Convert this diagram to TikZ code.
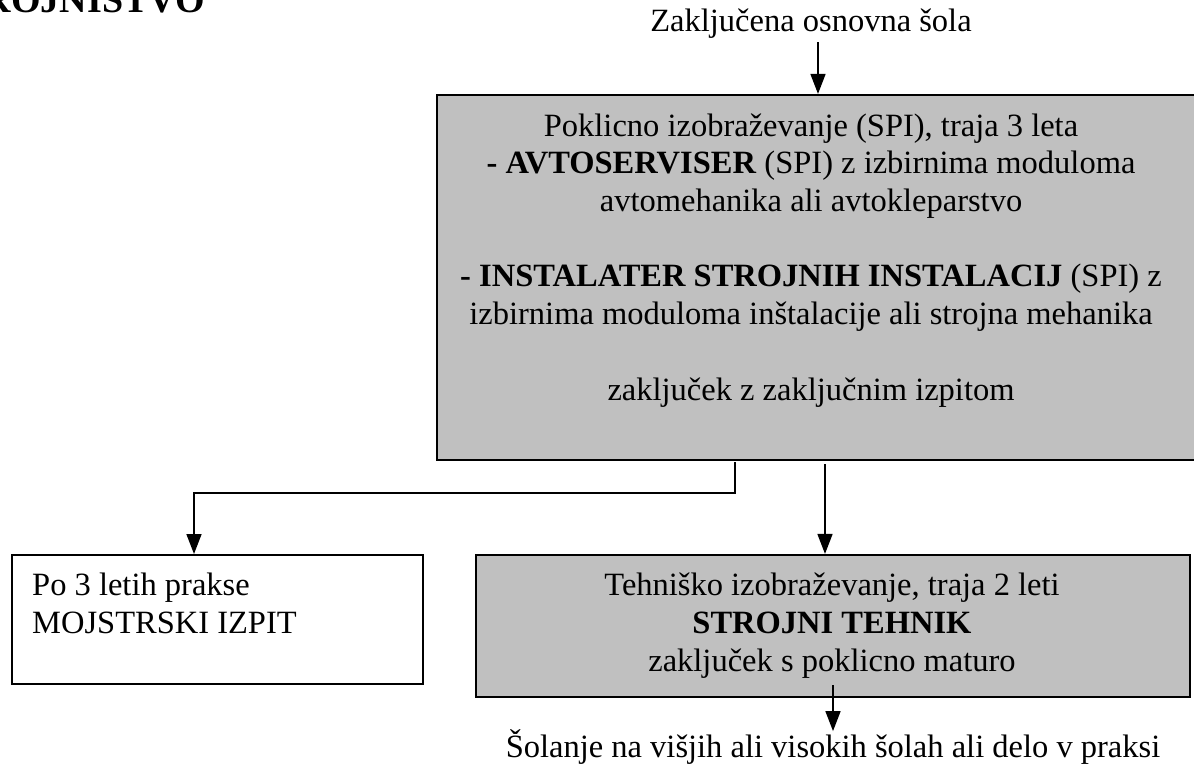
\documentclass[tikz,border=0pt]{standalone}
\usepackage{fontspec}
\setmainfont{Liberation Serif}
\usetikzlibrary{arrows.meta}
\definecolor{boxgray}{HTML}{C0C0C0}
\begin{document}
\begin{tikzpicture}[x=1pt,y=-1pt,
  txt/.style={font=\fontsize{32.5}{37.7}\selectfont, inner sep=0pt},
  graybox/.style={draw=black, line width=2.2pt, fill=boxgray, inner sep=0pt},
  whitebox/.style={draw=black, line width=2pt, fill=white, inner sep=0pt},
  arr/.style={line width=1.6pt, -{Triangle[length=20pt,width=15pt]}}]
\useasboundingbox (0,0) rectangle (1194,765);

% heading, partly cut off at the page edge
\node[font=\bfseries\fontsize{38}{40}\selectfont, anchor=base east, inner sep=0pt] (title) at (205,13) {STROJNIŠTVO};

% boxes
\node[graybox, minimum width=763pt, minimum height=365pt] (spi) at (818.5,277.5) {};
\node[whitebox, minimum width=411pt, minimum height=129pt] (mojster) at (217.5,619.5) {};
\node[graybox, minimum width=714pt, minimum height=142pt] (tech) at (833,626) {};

% texts (multi-line nodes are placed by the baseline of their last line)
\node[txt, anchor=base] (start) at (811,32) {Zaključena osnovna šola};
\node[txt, anchor=base, align=center] (spitxt) at (811,400) {Poklicno izobraževanje (SPI), traja 3 leta\\
\textbf{- AVTOSERVISER} (SPI) z izbirnima moduloma\\
avtomehanika ali avtokleparstvo\\[37.7pt]
\textbf{- INSTALATER STROJNIH INSTALACIJ} (SPI) z\\
izbirnima moduloma inštalacije ali strojna mehanika\\[37.7pt]
zaključek z zaključnim izpitom};
\node[txt, anchor=base west, align=left] (mojstertxt) at (32,633) {Po 3 letih prakse\\MOJSTRSKI IZPIT};
\node[txt, anchor=base, align=center] (techtxt) at (832,671) {Tehniško izobraževanje, traja 2 leti\\
\textbf{STROJNI TEHNIK}\\
zaključek s poklicno maturo};
\node[txt, anchor=base] (further) at (833,757) {Šolanje na višjih ali visokih šolah ali delo v praksi};

% connectors
\draw[arr] ([xshift=7pt,yshift=-3pt]start.south) -- ([xshift=7pt]start.south |- spi.north);
\coordinate (lsplit) at (735,462);
\draw[arr] (lsplit) -- ++(0,31) -| ([xshift=-23.5pt]mojster.north);
\draw[arr] ([xshift=-8pt,yshift=-3pt]tech.north |- spi.south) -- ([xshift=-8pt]tech.north);
\draw[arr] ([yshift=13pt]tech.south) -- ([yshift=-33pt]tech.south);
\end{tikzpicture}
\end{document}
